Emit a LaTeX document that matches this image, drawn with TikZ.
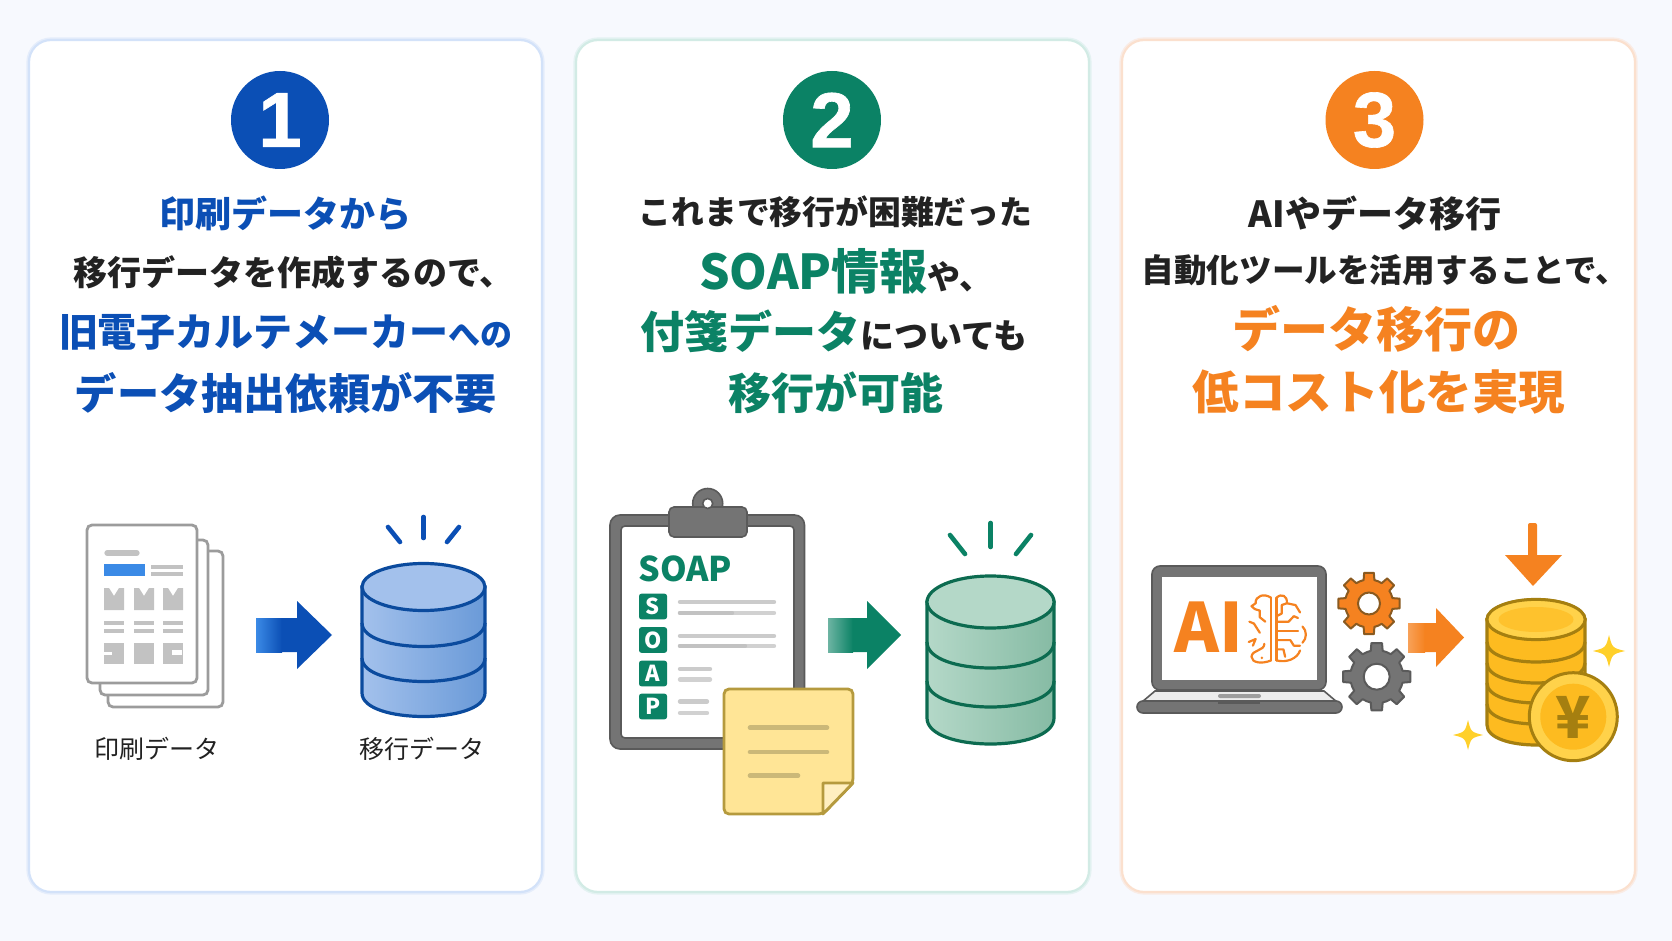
\documentclass[tikz,border=0pt]{standalone}
\usepackage{fontspec}
\usepackage{amsmath}
\usetikzlibrary{positioning}
\newfontfamily\cjk{Noto Sans CJK JP}
\newfontfamily\numfont[BoldFeatures={FakeBold=0.8}]{Liberation Sans}
\definecolor{pagebg}{HTML}{F7F9FE}
\definecolor{oneblue}{HTML}{0B4FB5}
\definecolor{twogreen}{HTML}{0B8265}
\definecolor{threeorange}{HTML}{F58220}
\definecolor{inkblack}{HTML}{222222}
\definecolor{edgeblue}{HTML}{D3E2F9}
\definecolor{edgegreen}{HTML}{D2EBE5}
\definecolor{edgeorange}{HTML}{FBE0CE}
\definecolor{papergray}{HTML}{9C9C9C}
\definecolor{inkgray}{HTML}{C2C2C2}
\definecolor{boardgray}{HTML}{747474}
\definecolor{boardedge}{HTML}{5A5A5A}
\definecolor{notefill}{HTML}{FFE596}
\definecolor{noteedge}{HTML}{B59A3E}
\definecolor{coinfill}{HTML}{FDBB20}
\definecolor{coinedge}{HTML}{A57F10}
\definecolor{coinlight}{HTML}{FFD24A}
\definecolor{starfill}{HTML}{FFD02A}
\definecolor{gearedge}{HTML}{8A5A20}
\definecolor{blueband}{HTML}{3B8AE6}
\definecolor{dbblueleft}{HTML}{A3C1EC}
\definecolor{dbblueright}{HTML}{6A9AD8}
\definecolor{dbblueline}{HTML}{0B4B9E}
\definecolor{dbgreenleft}{HTML}{B4D8C8}
\definecolor{dbgreenright}{HTML}{86BBA4}
\definecolor{dbgreenline}{HTML}{0C6B50}
\tikzset{
  cardglow/.style={line width=2.6pt,rounded corners=11pt},
  card/.style={fill=white,line width=1.1pt,rounded corners=11pt},
  badge/.style={circle,minimum size=49pt,inner sep=0pt,text=white,font=\numfont\bfseries\fontsize{39pt}{39pt}\selectfont},
  headline/.style={inner sep=0pt,font=\cjk\bfseries},
  plainline/.style={inner sep=0pt,text=inkblack,font=\cjk\bfseries},
  caption/.style={inner sep=0pt,text=inkblack,font=\cjk\fontsize{12.5pt}{12.5pt}\selectfont},
  ray/.style={line width=2.3pt,line cap=round},
  bar/.style={line width=2.2pt,line cap=round},
  sheet/.style={draw=papergray,fill=white,line width=1.4pt,rounded corners=2.5pt},
  letterbox/.style={fill=twogreen,rounded corners=1.2pt,minimum width=14pt,minimum height=12.8pt,inner sep=0pt,text=white,font=\cjk\bfseries\fontsize{11pt}{11pt}\selectfont},
  brainline/.style={threeorange,line width=1.1pt,line cap=round,line join=round},
}
% stack of discs: cx, top y, rx, ry, bottom y, band ys, line, left colour, right colour
\newcommand{\dbstack}[9]{
  \pgfmathsetmacro{\dbl}{#1-#3}
  \pgfmathsetmacro{\dbr}{#1+#3}
  \pgfmathsetmacro{\dbk}{#4*4/3}
  \draw[draw=#7,left color=#8,right color=#9,line width=1.6pt]
    (\dbl,#2) -- (\dbl,#5) .. controls (\dbl,#5+\dbk) and (\dbr,#5+\dbk) .. (\dbr,#5) -- (\dbr,#2) -- cycle;
  \foreach \bandy in {#6}
    \draw[draw=#7,line width=1.6pt] (\dbl,\bandy) .. controls (\dbl,\bandy+\dbk) and (\dbr,\bandy+\dbk) .. (\dbr,\bandy);
  \draw[draw=#7,fill=#8,line width=1.6pt] (#1,#2) ellipse [x radius=#3,y radius=#4];
}
% block arrow: x start, x gradient end, x head, x tip, cy, half shaft, half head, light, dark
\newcommand{\blockarrow}[9]{
  \fill[left color=#8,right color=#9] (#1,#5-#6) rectangle (#2,#5+#6);
  \fill[#9] (#2-0.5,#5-#6) -- (#3,#5-#6) -- (#3,#5-#7) -- (#4,#5) -- (#3,#5+#7) -- (#3,#5+#6) -- (#2-0.5,#5+#6) -- cycle;
}
% gear: cx, cy, outer r, root r, hole r, fill, line
\newcommand{\gearicon}[7]{
  \draw[fill=#6,draw=#7,line width=1pt,line join=round]
    ({#1+#4*cos(-22.5)},{#2+#4*sin(-22.5)})
    \foreach \a in {0,45,...,315} {
      -- ({#1+#4*cos(\a-13)},{#2+#4*sin(\a-13)})
      -- ({#1+#3*cos(\a-9)},{#2+#3*sin(\a-9)}) -- ({#1+#3*cos(\a+9)},{#2+#3*sin(\a+9)})
      -- ({#1+#4*cos(\a+13)},{#2+#4*sin(\a+13)}) -- ({#1+#4*cos(\a+22.5)},{#2+#4*sin(\a+22.5)})
    } -- cycle;
  \draw[fill=white,draw=#7,line width=1pt] (#1,#2) circle [radius=#5];
}
% four point star: cx, cy, r
\newcommand{\sparkle}[3]{
  \fill[starfill] (#1,#2-#3) .. controls (#1+0.2*#3,#2-0.2*#3) .. (#1+#3,#2)
    .. controls (#1+0.2*#3,#2+0.2*#3) .. (#1,#2+#3)
    .. controls (#1-0.2*#3,#2+0.2*#3) .. (#1-#3,#2)
    .. controls (#1-0.2*#3,#2-0.2*#3) .. (#1,#2-#3) -- cycle;
}
\begin{document}
\begin{tikzpicture}[x=0.5pt,y=-0.5pt]
  \useasboundingbox (0,0) rectangle (1672,941);
  %background
  \fill[pagebg] (0,0) rectangle (1672,941);

  %cards
  \draw[cardglow,draw=edgeblue!50!pagebg] (29,40) rectangle (542,892);
  \draw[cardglow,draw=edgegreen!50!pagebg] (576,40) rectangle (1089,892);
  \draw[cardglow,draw=edgeorange!50!pagebg] (1122,40) rectangle (1635,892);
  \draw[card,draw=edgeblue] (29,40) rectangle (542,892);
  \draw[card,draw=edgegreen] (576,40) rectangle (1089,892);
  \draw[card,draw=edgeorange] (1122,40) rectangle (1635,892);

  %badges
  \node[badge,fill=oneblue] (badgeone) at (280,120) {1};
  \node[badge,fill=twogreen] (badgetwo) at (832,120) {2};
  \node[badge,fill=threeorange] (badgethree) at (1374.5,120) {3};

  %text of card one
  \node[headline,text=oneblue] (onea) at (285.5,213) {\fontsize{18pt}{18pt}\selectfont 印刷データから};
  \node[plainline] (oneb) at (293.5,272) {\fontsize{17pt}{17pt}\selectfont 移行データを作成するので、};
  \node[headline,text=oneblue] (onec) at (286,332) {\fontsize{19.5pt}{19.5pt}\selectfont 旧電子カルテメーカー\fontsize{16pt}{16pt}\selectfont への};
  \node[headline,text=oneblue] (oned) at (286,393) {\fontsize{21.1pt}{21.1pt}\selectfont データ抽出依頼が不要};

  %text of card two
  \node[plainline] (twoa) at (835.5,212) {\fontsize{16.4pt}{16.4pt}\selectfont これまで移行が困難だった};
  \node[headline] (twob) at (846,271) {\textcolor{twogreen}{\fontsize{24pt}{24pt}\selectfont SOAP情報}\textcolor{inkblack}{\fontsize{16.5pt}{16.5pt}\selectfont や、}};
  \node[headline] (twoc) at (834,331) {\textcolor{twogreen}{\fontsize{22pt}{22pt}\selectfont 付箋データ}\textcolor{inkblack}{\fontsize{17pt}{17pt}\selectfont についても}};
  \node[headline,text=twogreen] (twod) at (836,393) {\fontsize{21.5pt}{21.5pt}\selectfont 移行が可能};

  %text of card three
  \node[plainline] (threea) at (1375,213) {\fontsize{18pt}{18pt}\selectfont AIやデータ移行};
  \node[plainline] (threeb) at (1385,270) {\fontsize{16.3pt}{16.3pt}\selectfont 自動化ツールを活用することで、};
  \node[headline,text=threeorange] (threec) at (1376.5,329) {\fontsize{24pt}{24pt}\selectfont データ移行の};
  \node[headline,text=threeorange] (threed) at (1379,392) {\fontsize{23.3pt}{23.3pt}\selectfont 低コスト化を実現};

  %printed pages
  \draw[sheet] (108,551) rectangle (223,707);
  \draw[sheet] (100,540) rectangle (208,695);
  \draw[sheet] (87,525) rectangle (197,683);
  \draw[bar,inkgray,line width=2.6pt] (107,553) -- (137,553);
  \fill[blueband] (104,564) rectangle (145,576);
  \foreach \liney in {567,574}
    \draw[inkgray,line width=2.4pt] (151,\liney) -- (183,\liney);
  \foreach \cellx in {104,134,163} {
    \fill[inkgray] (\cellx,588) -- (\cellx+5,588) -- (\cellx+10,596) -- (\cellx+15,588) -- (\cellx+20,588) -- (\cellx+20,610) -- (\cellx,610) -- cycle;
    \foreach \liney in {623,631}
      \draw[inkgray,line width=2.2pt] (\cellx,\liney) -- (\cellx+20,\liney);
    \fill[inkgray] (\cellx,643) rectangle (\cellx+20,664);
  }
  \fill[white] (104,652) rectangle (112,655);
  \fill[white] (172,650) rectangle (182,655);

  %arrow and database of card one
  \blockarrow{256}{282}{297}{332}{635}{17}{34}{blueband}{oneblue}
  \dbstack{423.5}{587}{61.5}{23.5}{693}{623,658}{dbblueline}{dbblueleft}{dbblueright}
  \draw[ray,oneblue] (423.5,517) -- (423.5,538);
  \draw[ray,oneblue] (388,527) -- (400,542);
  \draw[ray,oneblue] (459,527) -- (447,542);
  \node[caption] (labelprint) at (157,749) {印刷データ};
  \node[caption] (labelmoved) at (421.5,749) {移行データ};

  %clipboard
  \draw[boardedge,fill=boardgray,line width=0.8pt,rounded corners=5pt] (610,515) rectangle (804.5,749);
  \draw[boardedge,fill=white,line width=0.8pt,rounded corners=2pt] (621,526) rectangle (794,738);
  \draw[boardedge,fill=boardgray,line width=0.8pt] (707.7,503.5) circle [radius=15];
  \draw[boardedge,fill=boardgray,line width=0.8pt,rounded corners=2.5pt] (669,507) rectangle (747,537);
  \draw[boardedge,fill=white,line width=0.8pt] (707.7,503.5) circle [radius=5];
  \node[inner sep=0pt,anchor=west,text=twogreen,font=\cjk\bfseries\fontsize{17pt}{17pt}\selectfont] (soaptitle) at (638,569) {SOAP};
  \node[letterbox] (boxs) at (653,606.5) {S};
  \node[letterbox] (boxo) at (653,640) {O};
  \node[letterbox] (boxa) at (653,673.5) {A};
  \node[letterbox] (boxp) at (653,706.5) {P};
  \foreach \linea/\lineb/\lineend in {602/613/774,636/646/774,669/679.5/710,701.5/713/707} {
    \draw[bar,inkgray!85!white] (680,\linea) -- (\lineend,\linea);
    \draw[bar,inkgray!75!white] (680,\lineb) -- (\lineend,\lineb);
  }
  \draw[bar,inkgray] (680,613) -- (732,613);
  \draw[bar,inkgray] (680,646) -- (745,646);

  %sticky note
  \draw[fill=notefill,draw=noteedge,line width=1.4pt,rounded corners=2.5pt] (724,689) -- (853,689) -- (853,783) -- (823,814) -- (724,814) -- cycle;
  \draw[fill=notefill!60!white,draw=noteedge,line width=1.4pt,line join=round] (853,783) -- (823,783) -- (823,814) -- cycle;
  \foreach \noteend/\notey in {827/727.7,827/752,798/775.7}
    \draw[bar,noteedge!70!white,line width=2.3pt] (750,\notey) -- (\noteend,\notey);

  %arrow and database of card two
  \blockarrow{828}{853}{867}{901}{635}{17}{34}{twogreen!60!white}{twogreen}
  \dbstack{990.5}{602}{63.5}{26}{718}{642,681}{dbgreenline}{dbgreenleft}{dbgreenright}
  \draw[ray,twogreen] (990.7,523) -- (990.7,547);
  \draw[ray,twogreen] (950,535) -- (965,554);
  \draw[ray,twogreen] (1031,535) -- (1016,554);

  %laptop
  \draw[boardedge,fill=boardgray,line width=0.8pt,rounded corners=4pt] (1152,566) rectangle (1326,690);
  \fill[white] (1162,577) rectangle (1317,680);
  \draw[boardedge,fill=white!93!black,line width=0.8pt] (1155,691) -- (1324,691) -- (1337,702) -- (1142,702) -- cycle;
  \fill[boardgray!70!white,rounded corners=1pt] (1218,694) rectangle (1261,698);
  \draw[boardedge,fill=boardgray,line width=0.8pt,rounded corners=3pt] (1137,701) rectangle (1342,713);
  \fill[boardedge] (1218,701.5) rectangle (1260,704);
  \node[inner sep=0pt,text=threeorange,font=\cjk\bfseries\fontsize{34pt}{34pt}\selectfont] (aititle) at (1209,627) {AI};

  %brain
  \begin{scope}[shift={(1238.3,584.8)},x=0.1735pt,y=-0.1845pt]
    \draw[brainline] (94,35) -- (94,205);
    \draw[brainline] (110,35) -- (110,205);
    \draw[brainline] (94,35) .. controls (75,22) and (48,30) .. (50,50) -- (38,58) -- (48,66) -- (62,70) -- (62,88) -- (78,100);
    \draw[brainline] (32,100) -- (45,105) -- (62,130);
    \draw[brainline] (30,155) -- (50,147) -- (42,165);
    \draw[brainline] (75,160) .. controls (75,180) and (40,175) .. (38,195) .. controls (38,212) and (70,215) .. (94,205);
    \fill[threeorange] (68,198) circle [radius=4];
    \draw[brainline] (110,35) .. controls (125,22) and (142,30) .. (140,50) -- (125,55) -- (125,78) -- (110,85);
    \draw[brainline] (140,50) -- (165,55) -- (178,75);
    \draw[brainline] (110,100) -- (145,100) -- (160,85) -- (172,90);
    \draw[brainline] (110,125) -- (172,125);
    \draw[brainline] (185,113) .. controls (198,125) and (198,145) .. (185,157);
    \draw[brainline] (110,150) -- (150,150) -- (160,165) -- (178,165);
    \draw[brainline] (110,175) -- (130,175) -- (135,195);
    \draw[brainline] (178,178) .. controls (170,200) and (140,212) .. (110,205);
  \end{scope}

  %gears
  \gearicon{1369}{603.5}{31}{24}{11}{threeorange}{gearedge}
  \gearicon{1376.7}{676.7}{34}{26.5}{13}{boardgray}{boardedge}

  %arrow of card three
  \blockarrow{1408}{1425}{1436}{1464}{637.5}{14.5}{29.5}{threeorange!75!white}{threeorange}

  %coins
  \fill[threeorange,rounded corners=1pt] (1528,523) rectangle (1537,558);
  \fill[threeorange] (1505,555) -- (1562,555) -- (1533,586) -- cycle;
  \dbstack{1536}{619.5}{49}{20}{725}{642,663,683,704}{coinedge}{coinfill}{coinfill}
  \draw[draw=coinedge,fill=coinlight,line width=1.4pt] (1536,619.5) ellipse [x radius=49,y radius=20];
  \fill[coinfill!70!coinlight] (1536,619.5) ellipse [x radius=37.5,y radius=12.5];
  \draw[draw=coinedge,fill=coinlight,line width=1.5pt] (1573.3,716.7) circle [radius=44];
  \fill[coinfill] (1573.3,716.7) circle [radius=33];
  \node[inner sep=0pt,text=coinedge,font=\cjk\bfseries\fontsize{29pt}{29pt}\selectfont] (yenmark) at (1573.3,717) {¥};
  \sparkle{1609}{651}{16}
  \sparkle{1468}{735}{15}
\end{tikzpicture}
\end{document}
